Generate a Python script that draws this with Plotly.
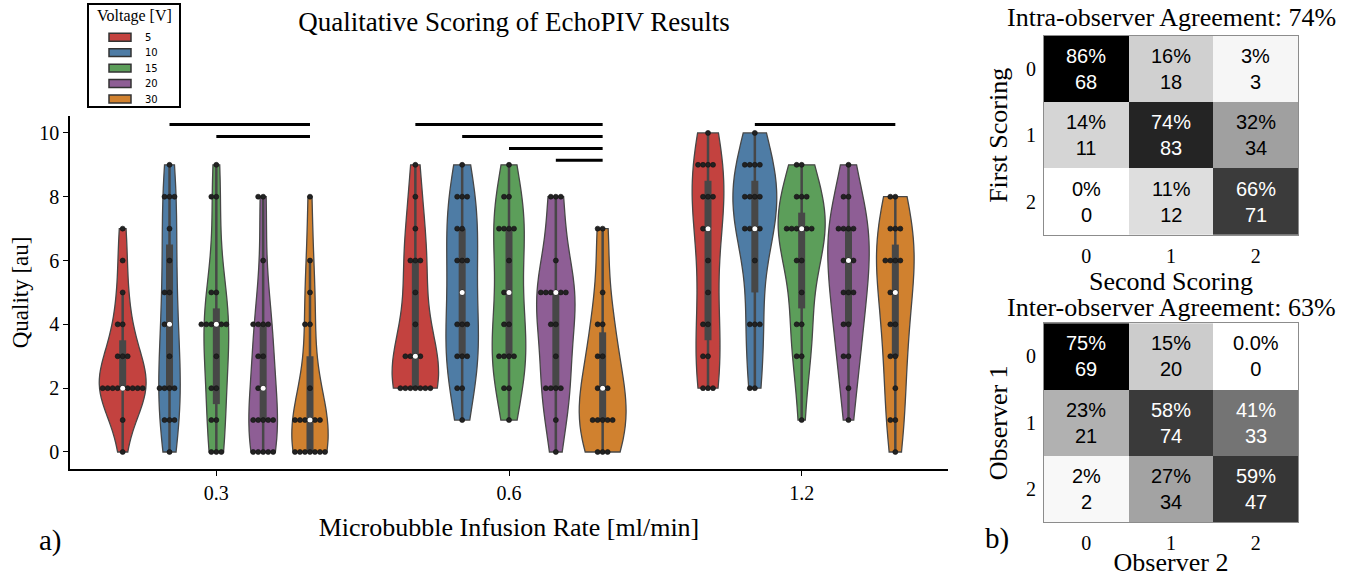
import numpy as np
import plotly.graph_objects as go

W, H = 1353, 577

# ---------------- data ----------------
rates = ["0.3", "0.6", "1.2"]
voltages = ["5", "10", "15", "20", "30"]
colors = ["#c3423f", "#4e7ca5", "#5c9e5a", "#8e5e95", "#d0812f"]

r03_v5 = [7, 6, 5, 4, 4, 3, 3, 3, 2, 2, 2, 2, 2, 2, 2, 2, 2, 1, 0]
r03_v10 = [9, 8, 8, 8, 7, 6, 5, 5, 4, 4, 3, 2, 2, 2, 2, 1, 1, 1, 0]
r03_v15 = [9, 8, 8, 5, 5, 4, 4, 4, 4, 4, 4, 3, 2, 2, 1, 1, 0, 0, 0]
r03_v20 = [8, 8, 6, 4, 4, 4, 4, 3, 3, 2, 2, 1, 1, 1, 1, 1, 0, 0, 0, 0, 0]
r03_v30 = [8, 6, 5, 4, 4, 2, 1, 1, 1, 1, 1, 1, 0, 0, 0, 0, 0, 0, 0]

r06_v5 = [9, 8, 7, 6, 6, 6, 5, 4, 3, 3, 3, 3, 2, 2, 2, 2, 2, 2, 2]
r06_v10 = [9, 8, 8, 8, 7, 7, 6, 6, 6, 5, 4, 4, 4, 3, 3, 3, 2, 2, 1]
r06_v15 = [9, 8, 8, 7, 7, 7, 7, 6, 5, 5, 4, 4, 3, 3, 3, 3, 2, 2, 1]
r06_v20 = [8, 8, 8, 6, 5, 5, 5, 5, 5, 5, 4, 4, 3, 2, 2, 2, 2, 1, 0]
r06_v30 = [7, 7, 5, 4, 4, 3, 3, 2, 2, 2, 1, 1, 1, 1, 1, 0, 0, 0]

r12_v5 = [10, 9, 9, 9, 9, 8, 8, 8, 7, 7, 6, 5, 4, 4, 3, 3, 2, 2, 2]
r12_v10 = [10, 9, 9, 9, 9, 8, 8, 8, 8, 7, 7, 7, 7, 6, 4, 4, 4, 2, 2]
r12_v15 = [9, 9, 8, 8, 8, 7, 7, 7, 7, 7, 7, 6, 6, 5, 4, 4, 3, 3, 1]
r12_v20 = [9, 8, 8, 7, 7, 7, 7, 6, 6, 6, 5, 5, 5, 4, 4, 3, 3, 2, 1]
r12_v30 = [8, 8, 7, 7, 7, 6, 6, 6, 6, 5, 5, 4, 4, 3, 3, 2, 1, 1, 0]

scores = [
    [r03_v5, r03_v10, r03_v15, r03_v20, r03_v30],
    [r06_v5, r06_v10, r06_v15, r06_v20, r06_v30],
    [r12_v5, r12_v10, r12_v15, r12_v20, r12_v30],
]

# significance bars (rate index, from voltage, to voltage, bar height)
sig_rate = [0, 0, 1, 1, 1, 1, 2]
sig_from = ["10", "15", "5", "10", "15", "20", "10"]
sig_to = ["30", "30", "30", "30", "30", "30", "30"]
sig_level = [10.26, 9.89, 10.26, 9.89, 9.51, 9.14, 10.26]

score_labels = ["0", "1", "2"]
intra_counts = [[68, 18, 3], [11, 83, 34], [0, 12, 71]]
intra_pct = [[86, 16, 3], [14, 74, 32], [0, 11, 66]]
inter_counts = [[69, 20, 0], [21, 74, 33], [2, 34, 47]]
inter_pct = [[75, 15, 0.0], [23, 58, 41], [2, 27, 59]]

# ---------------- style ----------------
SERIF = "Liberation Serif"
SANS = "Liberation Sans"
DARK = "#474747"
hue_step = 0.16
px_per_x = (948 - 70) / 3.0
dot_step = 5.0 / px_per_x


def px(x):
    return x / W


def py(y):
    return 1 - y / H


def scott_bw(vals):
    return vals.std(ddof=1) * len(vals) ** (-1 / 5)


def kde_peak(vals):
    bw = scott_bw(vals)
    grid = np.linspace(vals.min(), vals.max(), 100)
    dens = np.exp(-0.5 * ((grid[:, None] - vals[None, :]) / bw) ** 2).sum(axis=1)
    dens /= len(vals) * bw * np.sqrt(2 * np.pi)
    return dens.max()


fig = go.Figure()

positions = {}
for gi in range(len(rates)):
    for hi in range(len(voltages)):
        positions[(gi, hi)] = gi + (hi - (len(voltages) - 1) / 2) * hue_step

# violins (area scaling within each infusion-rate group)
for gi, rate in enumerate(rates):
    arrs = [np.asarray(v, dtype=float) for v in scores[gi]]
    peaks = [kde_peak(a) for a in arrs]
    gmax = max(peaks)
    for hi, volt in enumerate(voltages):
        vals = arrs[hi]
        n = len(vals)
        pos = positions[(gi, hi)]
        fig.add_trace(go.Violin(
            x=np.full(n, pos), y=vals, width=hue_step * peaks[hi] / gmax,
            scalegroup=f"g{gi}h{hi}", scalemode="width", spanmode="hard",
            bandwidth=scott_bw(vals), points=False, box_visible=False, meanline_visible=False,
            fillcolor=colors[hi], line=dict(color=DARK, width=1.3), opacity=1,
            name=f"{volt} V", legendgroup=volt, showlegend=False, hoverinfo="skip",
        ))

# inner boxes
for gi in range(len(rates)):
    for hi in range(len(voltages)):
        vals = np.asarray(scores[gi][hi], dtype=float)
        pos = positions[(gi, hi)]
        q1, q3 = np.percentile(vals, [25, 75])
        lim = 1.5 * (q3 - q1)
        lo = vals[vals >= q1 - lim].min()
        hi_w = vals[vals <= q3 + lim].max()
        fig.add_trace(go.Scatter(x=[pos, pos], y=[lo, hi_w], mode="lines",
                                 line=dict(color=DARK, width=2.5), showlegend=False, hoverinfo="skip"))
        fig.add_trace(go.Scatter(x=[pos, pos], y=[q1, q3], mode="lines",
                                 line=dict(color=DARK, width=7), showlegend=False, hoverinfo="skip"))

# swarm points
for gi in range(len(rates)):
    for hi in range(len(voltages)):
        vals = np.asarray(scores[gi][hi], dtype=float)
        pos = positions[(gi, hi)]
        xs, ys = [], []
        for v in np.unique(vals):
            k = int((vals == v).sum())
            for i in range(k):
                off = ((i + 1) // 2) * (-1 if i % 2 == 1 else 1)
                xs.append(pos + off * dot_step)
                ys.append(v)
        fig.add_trace(go.Scatter(x=xs, y=ys, mode="markers",
                                 marker=dict(size=5, color="#222222", line=dict(color="#111111", width=0.6)),
                                 showlegend=False, hoverinfo="skip"))

# medians
for gi in range(len(rates)):
    for hi in range(len(voltages)):
        vals = np.asarray(scores[gi][hi], dtype=float)
        fig.add_trace(go.Scatter(x=[positions[(gi, hi)]], y=[np.median(vals)], mode="markers",
                                 marker=dict(size=5, color="white"), showlegend=False, hoverinfo="skip"))

# significance bars
for r, a, b, lvl in zip(sig_rate, sig_from, sig_to, sig_level):
    xa = positions[(r, voltages.index(a))]
    xb = positions[(r, voltages.index(b))]
    fig.add_trace(go.Scatter(x=[xa, xb], y=[lvl, lvl], mode="lines",
                             line=dict(color="black", width=3), showlegend=False, hoverinfo="skip"))

# heatmaps
gray_scale = [[0, "#ffffff"], [1, "#000000"]]
for pct, counts, xa, ya in [(intra_pct, intra_counts, "x2", "y2"), (inter_pct, inter_counts, "x3", "y3")]:
    zmax = max(max(row) for row in pct)
    fig.add_trace(go.Heatmap(z=pct, x=[0, 1, 2], y=[0, 1, 2], colorscale=gray_scale,
                             zmin=0, zmax=zmax, showscale=False, xaxis=xa, yaxis=ya, hoverinfo="skip"))
    for i in range(3):
        for j in range(3):
            c = "white" if pct[i][j] > zmax / 2 else "black"
            fig.add_annotation(x=j, y=i, xref=xa, yref=ya, text=f"{pct[i][j]}%<br>{counts[i][j]}",
                               showarrow=False, font=dict(family=SANS, size=20, color=c))

axis_font = dict(family=SERIF, size=20, color="black")
hm_x = dict(range=[-0.5, 2.5], tickvals=[0, 1, 2], ticktext=score_labels, showgrid=False,
            zeroline=False, showline=True, mirror=True, linecolor="#8c8c8c", linewidth=1,
            ticks="", tickfont=axis_font, ticklabelstandoff=3)
hm_y = dict(range=[2.5, -0.5], tickvals=[0, 1, 2], ticktext=score_labels, showgrid=False,
            zeroline=False, showline=True, mirror=True, linecolor="#8c8c8c", linewidth=1,
            ticks="", tickfont=axis_font, ticklabelstandoff=3)

fig.update_layout(
    width=W, height=H, margin=dict(l=0, r=0, t=0, b=0),
    paper_bgcolor="white", plot_bgcolor="white", showlegend=False,
    font=dict(family=SERIF, color="black"),
    title=dict(text="Qualitative Scoring of EchoPIV Results", x=px(514), y=py(22),
               xanchor="center", yanchor="middle", font=dict(family=SERIF, size=27, color="black")),
    xaxis=dict(domain=[px(70), px(948)], range=[-0.5, 2.5], tickvals=[0, 1, 2], ticktext=rates,
               showline=True, linecolor="black", linewidth=1.5, ticks="outside", ticklen=5,
               tickwidth=1.2, tickcolor="black", tickfont=axis_font, showgrid=False, zeroline=False,
               title=dict(text="Microbubble Infusion Rate [ml/min]", font=dict(family=SERIF, size=26), standoff=15)),
    yaxis=dict(domain=[py(473), py(117)], range=[-0.53, 10.53], tickvals=[0, 2, 4, 6, 8, 10],
               showline=True, linecolor="black", linewidth=1.5, ticks="outside", ticklen=5,
               tickwidth=1.2, tickcolor="black", tickfont=axis_font, showgrid=False, zeroline=False,
               title=dict(text="Quality [au]", font=dict(family=SERIF, size=23), standoff=4)),
    xaxis2=dict(domain=[px(1044), px(1298)], anchor="y2",
                title=dict(text="Second Scoring", font=dict(family=SERIF, size=26), standoff=0), **hm_x),
    yaxis2=dict(domain=[py(237), py(36)], anchor="x2",
                title=dict(text="First Scoring", font=dict(family=SERIF, size=26), standoff=10), **hm_y),
    xaxis3=dict(domain=[px(1044), px(1298)], anchor="y3",
                title=dict(text="Observer 2", font=dict(family=SERIF, size=26), standoff=4), **hm_x),
    yaxis3=dict(domain=[py(527), py(326)], anchor="x3",
                title=dict(text="Observer 1", font=dict(family=SERIF, size=26), standoff=10), **hm_y),
)

# heatmap titles and panel labels
fig.add_annotation(x=px(1171), y=py(18), xref="paper", yref="paper", text="Intra-observer Agreement: 74%",
                   showarrow=False, xanchor="center", yanchor="middle", font=dict(family=SERIF, size=26))
fig.add_annotation(x=px(1171), y=py(310), xref="paper", yref="paper", text="Inter-observer Agreement: 63%",
                   showarrow=False, xanchor="center", yanchor="middle", font=dict(family=SERIF, size=26))
fig.add_annotation(x=px(50), y=py(545), xref="paper", yref="paper", text="a)",
                   showarrow=False, xanchor="center", yanchor="middle", font=dict(family=SERIF, size=29))
fig.add_annotation(x=px(997), y=py(543), xref="paper", yref="paper", text="b)",
                   showarrow=False, xanchor="center", yanchor="middle", font=dict(family=SERIF, size=29))

# legend (custom box)
fig.add_shape(type="rect", xref="paper", yref="paper", x0=px(88), x1=px(180), y0=py(108), y1=py(4),
              line=dict(color="black", width=2), fillcolor="white", layer="above")
fig.add_annotation(x=px(134), y=py(16), xref="paper", yref="paper", text="Voltage [V]", showarrow=False,
                   xanchor="center", yanchor="middle", font=dict(family=SERIF, size=16))
for hi, volt in enumerate(voltages):
    yc = 37.5 + hi * 15.6
    fig.add_shape(type="rect", xref="paper", yref="paper", x0=px(109), x1=px(131),
                  y0=py(yc + 4), y1=py(yc - 4), fillcolor=colors[hi],
                  line=dict(color="#333333", width=1.5), layer="above")
    fig.add_annotation(x=px(143), y=py(yc), xref="paper", yref="paper", text=volt, showarrow=False,
                       xanchor="left", yanchor="middle", font=dict(family="DejaVu Sans", size=10))

fig.write_html("out.html", config={"displayModeBar": False},
               post_script="document.body.style.margin='0';")
